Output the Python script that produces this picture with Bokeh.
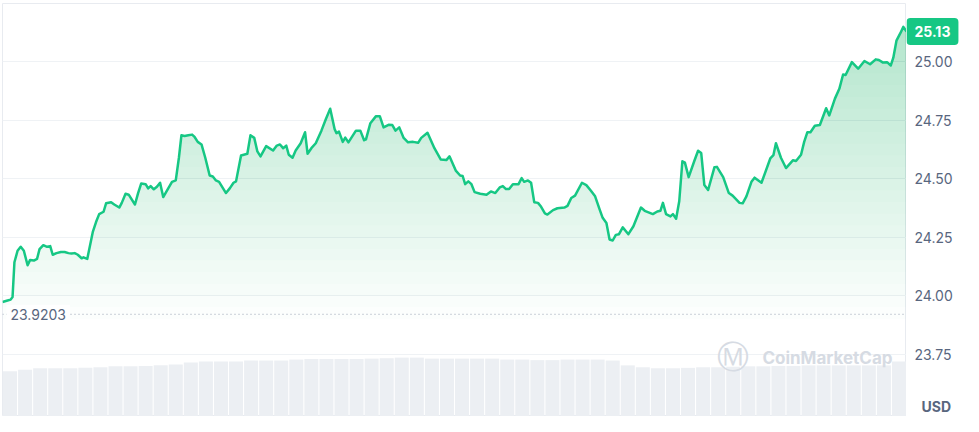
import numpy as np
from bokeh.plotting import figure
from bokeh.layouts import row
from bokeh.models import Range1d, FixedTicker, Label, Span
from bokeh.core.properties import value
from bokeh.embed import file_html
from bokeh.resources import INLINE

# ---- data ----
minutes = [0,8,13,16,19,24,29,34,40,44,
           50,55,59,65,71,76,80,86,93,99,
           105,110,115,120,126,129,135,144,149,154,
           161,165,173,178,186,190,196,201,211,216,
           221,228,232,236,241,246,251,256,264,270,
           276,281,285,290,296,302,306,311,317,323,
           330,335,340,345,356,362,368,372,380,390,
           395,401,406,411,420,431,437,442,447,452,
           456,462,467,475,482,486,492,499,508,515,
           522,529,532,536,542,546,551,563,570,576,
           579,586,595,601,607,615,621,626,632,639,
           646,654,662,667,677,688,698,707,712,722,
           729,733,737,742,747,752,761,771,778,785,
           792,797,802,807,813,822,827,831,837,842,
           847,853,858,864,868,877,884,895,900,906,
           912,923,930,937,944,951,956,962,967,972,
           977,982,988,997,1005,1017,1023,1036,1043,1048,
           1052,1057,1064,1068,1073,1078,1083,1087,1093,1102,
           1108,1113,1118,1124,1134,1138,1148,1157,1163,1174,
           1179,1185,1193,1198,1209,1223,1228,1232,1240,1248,
           1259,1264,1272,1277,1282,1287,1294,1302,1312,1317,
           1326,1333,1339,1343,1353,1363,1373,1382,1391,1396,
           1402,1409,1415,1419,1424,1430,1435,1440]

prices = [23.973,23.979,23.983,23.994,24.143,24.192,24.209,24.192,24.130,24.153,
          24.150,24.157,24.199,24.216,24.209,24.212,24.175,24.182,24.187,24.187,
          24.182,24.180,24.182,24.175,24.160,24.164,24.157,24.274,24.315,24.349,
          24.359,24.395,24.400,24.390,24.377,24.397,24.436,24.432,24.390,24.439,
          24.480,24.477,24.459,24.469,24.455,24.466,24.483,24.422,24.459,24.487,
          24.493,24.590,24.686,24.683,24.686,24.689,24.679,24.658,24.647,24.590,
          24.514,24.510,24.493,24.487,24.439,24.459,24.483,24.489,24.600,24.607,
          24.686,24.675,24.617,24.596,24.640,24.621,24.642,24.647,24.631,24.642,
          24.603,24.590,24.621,24.652,24.699,24.607,24.631,24.652,24.706,24.755,
          24.800,24.713,24.695,24.702,24.658,24.676,24.656,24.706,24.706,24.665,
          24.669,24.738,24.768,24.768,24.720,24.731,24.730,24.706,24.720,24.675,
          24.656,24.658,24.654,24.675,24.697,24.631,24.583,24.580,24.596,24.535,
          24.514,24.512,24.477,24.489,24.477,24.443,24.436,24.432,24.446,24.439,
          24.463,24.469,24.456,24.456,24.477,24.477,24.503,24.487,24.493,24.483,
          24.400,24.397,24.380,24.352,24.347,24.366,24.374,24.377,24.384,24.418,
          24.428,24.483,24.473,24.450,24.425,24.370,24.333,24.311,24.240,24.236,
          24.260,24.263,24.292,24.263,24.297,24.377,24.363,24.349,24.360,24.363,
          24.397,24.349,24.339,24.349,24.329,24.404,24.575,24.569,24.507,24.576,
          24.620,24.610,24.473,24.452,24.549,24.551,24.507,24.439,24.428,24.397,
          24.395,24.425,24.487,24.505,24.483,24.587,24.601,24.652,24.590,24.546,
          24.579,24.576,24.603,24.658,24.699,24.699,24.727,24.730,24.802,24.771,
          24.843,24.885,24.946,24.944,24.999,24.971,25.004,24.990,25.011,25.008,
          24.998,24.999,24.985,25.018,25.091,25.122,25.150,25.130]

# rolling volume (arbitrary units), one bar per 24 minutes
volume = [117.5,121,125,125,125,126,127.5,130,130,131,
          132.5,135,140,142.5,142.5,142.5,145,145,145,147.5,
          149,149,149,149,150,151,152.5,152.5,150,150,
          150,150,150,147.5,147.5,146,146,147.5,147.5,147.5,
          145,132.5,127.5,125,125,126,127.5,127.5,129,130,
          130,131,131,132.5,132.5,132.5,132.5,132.5,132.5,142.5]
volume_step = 24

open_price = 23.9203
last_price_label = "25.13"
y_ticks = [23.75, 24.00, 24.25, 24.50, 24.75, 25.00]
currency = "USD"
brand = "CoinMarketCap"

# ---- style ----
GREEN = "#16c784"
FILL = "#1cbf6c"
TXT = "#58667e"
FONT = "Inter"
H = 416

t = np.array(minutes, dtype=float)
pr = np.array(prices)
vol_t = np.arange(len(volume)) * volume_step + volume_step / 2
yr = Range1d(23.483, 25.25)

p = figure(width=906, height=H,
           x_range=Range1d(t[0], t[-1]), y_range=yr,
           y_axis_location=None, x_axis_location=None,
           output_backend="svg", toolbar_location=None,
           min_border_left=2, min_border_right=0, min_border_top=3, min_border_bottom=0,
           background_fill_color="white", border_fill_color="white")
p.outline_line_color = "#e8ebf0"
p.xgrid.visible = False
p.ygrid.ticker = FixedTicker(ticks=y_ticks)
p.ygrid.grid_line_color = "#eff2f5"
p.ygrid.grid_line_width = 1

# volume bars on their own range
p.extra_y_ranges = {"vol": Range1d(0, 1070)}
p.vbar(x=vol_t, top=volume, bottom=0, width=volume_step * 0.93,
       y_range_name="vol", fill_color="#eceff3", line_color=None)

# gradient-like area fill built from stacked translucent layers
for lvl in np.arange(23.90, 25.2, 0.05):
    p.varea(x=t, y1=np.full_like(pr, lvl), y2=np.maximum(pr, lvl),
            fill_color=FILL, fill_alpha=0.0135)

# open price dotted line
p.add_layout(Span(location=open_price, dimension="width", line_color="#9aa3b2",
                  line_dash="1 3", line_width=1))

p.line(t, pr, line_color=GREEN, line_width=2.5, line_join="round")

p.add_layout(Label(x=t[0], y=open_price, text=f"{open_price:.4f}", x_offset=4,
                   text_align="left", text_baseline="middle",
                   text_font=FONT, text_font_size="14px", text_color=TXT,
                   background_fill_color="white", padding=4))

# watermark
p.add_layout(Label(x=t[-1], y=23.734, text=brand, x_offset=-14,
                   text_align="right", text_baseline="middle",
                   text_font=FONT, text_font_size="17px", text_font_style="bold",
                   text_color="#d6dbe3"))
p.add_layout(Label(x=t[-1], y=23.737, text="\u24c2", x_offset=-158,
                   text_align="right", text_baseline="middle",
                   text_font="DejaVu Sans", text_font_size="32px",
                   text_color="#d6dbe3"))

# ---- right-hand price scale ----
s = figure(width=57, height=H, x_range=Range1d(0, 57), y_range=yr,
           x_axis_location=None, y_axis_location=None,
           output_backend="svg", toolbar_location=None,
           min_border_left=0, min_border_right=0, min_border_top=3, min_border_bottom=0,
           background_fill_color="white", border_fill_color="white")
s.outline_line_color = None
s.xgrid.visible = False
s.ygrid.visible = False
s.text(x=[8] * len(y_ticks), y=y_ticks, text=[f"{v:.2f}" for v in y_ticks],
       text_font=value(FONT), text_font_size="14px", text_color=TXT,
       text_align="left", text_baseline="middle")
s.add_layout(Label(x=0, y=float(last_price_label), text=last_price_label,
                   text_align="left", text_baseline="middle",
                   text_font=FONT, text_font_size="14px", text_font_style="bold",
                   text_color="white", background_fill_color=GREEN,
                   padding=8, border_radius=4))
s.add_layout(Label(x=15, y=yr.start, text=currency, y_offset=10,
                   text_align="left", text_baseline="middle",
                   text_font=FONT, text_font_size="14px", text_font_style="bold",
                   text_color=TXT))

layout = row(p, s)
open("out.html", "w").write(file_html(layout, INLINE))
